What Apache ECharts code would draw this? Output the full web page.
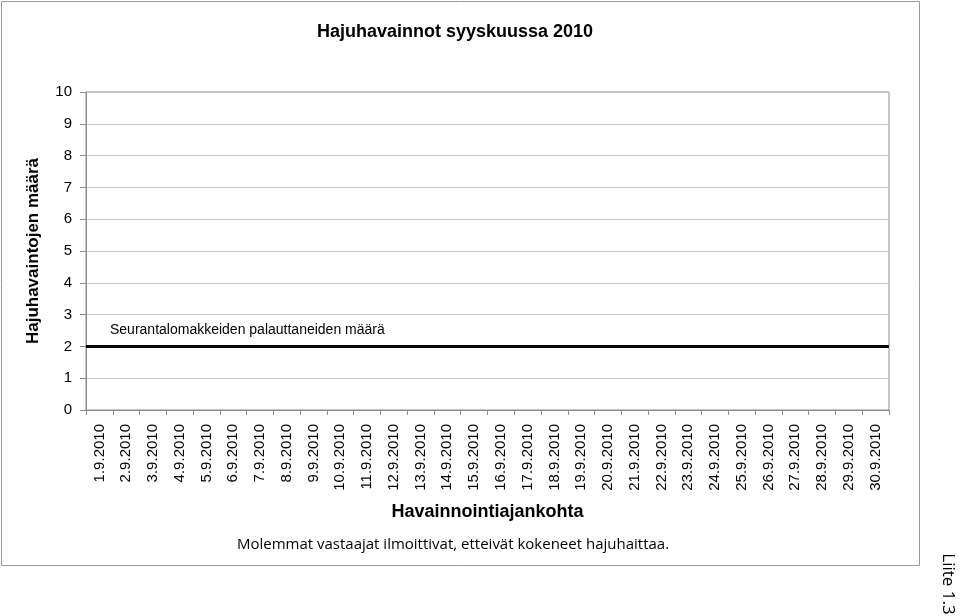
<!DOCTYPE html>
<html>
<head>
<meta charset="utf-8">
<script src="https://cdn.jsdelivr.net/npm/echarts@6/dist/echarts.min.js"></script>
<style>html,body{margin:0;padding:0;background:#fff}#c{width:960px;height:616px}</style>
</head>
<body>
<div id="c"></div>
<script>
const days = ["1.9.2010","2.9.2010","3.9.2010","4.9.2010","5.9.2010","6.9.2010","7.9.2010","8.9.2010","9.9.2010","10.9.2010","11.9.2010","12.9.2010","13.9.2010","14.9.2010","15.9.2010","16.9.2010","17.9.2010","18.9.2010","19.9.2010","20.9.2010","21.9.2010","22.9.2010","23.9.2010","24.9.2010","25.9.2010","26.9.2010","27.9.2010","28.9.2010","29.9.2010","30.9.2010"];
const observations = [0,0,0,0,0,0,0,0,0,0,0,0,0,0,0,0,0,0,0,0,0,0,0,0,0,0,0,0,0,0];
const formsReturned = [2,2,2,2,2,2,2,2,2,2,2,2,2,2,2,2,2,2,2,2,2,2,2,2,2,2,2,2,2,2];
const yMin = 0, yMax = 10, yStep = 1;
const titleText = "Hajuhavainnot syyskuussa 2010";
const yTitle = "Hajuhavaintojen määrä";
const xTitle = "Havainnointiajankohta";
const lineLabel = "Seurantalomakkeiden palauttaneiden määrä";
const noteText = "Molemmat vastaajat ilmoittivat, etteivät kokeneet hajuhaittaa.";
const appendixText = "Liite 1.3";

const chart = echarts.init(document.getElementById('c'), null, {renderer:'canvas'});
const F = "'Liberation Sans', Arial, sans-serif";
chart.setOption({
  animation:false,
  backgroundColor:'#fff',
  title:{text:titleText, left:450, top:18, textAlign:'center',
    textStyle:{fontFamily:F, fontSize:18, fontWeight:'bold', color:'#000'}},
  grid:{left:86, right:71, top:92, bottom:206, show:true, borderColor:'#8c8c8c', borderWidth:1},
  xAxis:[{
    type:'category', data:days, boundaryGap:true,
    name:xTitle, nameLocation:'middle', nameGap:93,
    nameTextStyle:{fontFamily:F, fontSize:18, fontWeight:'bold', color:'#000'},
    axisLine:{lineStyle:{color:'#8c8c8c', width:1}},
    axisTick:{show:true, length:5, lineStyle:{color:'#8c8c8c'}},
    axisLabel:{rotate:90, interval:0, margin:14, fontFamily:F, fontSize:15, color:'#000'},
    splitLine:{show:false}
  },{
    type:'category', data:days, boundaryGap:false, show:false, position:'bottom'
  }],
  yAxis:{
    type:'value', min:yMin, max:yMax, interval:yStep,
    name:yTitle, nameLocation:'middle', nameGap:44, nameRotate:90,
    nameTextStyle:{fontFamily:F, fontSize:17, fontWeight:'bold', color:'#000'},
    axisLine:{show:true, lineStyle:{color:'#8c8c8c'}},
    axisTick:{show:true, length:6, lineStyle:{color:'#8c8c8c'}},
    axisLabel:{margin:14, fontFamily:F, fontSize:15, color:'#000'},
    splitLine:{show:true, lineStyle:{color:'#c4c4c4', width:1}}
  },
  series:[
    {type:'bar', xAxisIndex:0, data:observations, itemStyle:{color:'#4f81bd'}, barWidth:'60%'},
    {type:'line', xAxisIndex:1, data:formsReturned, symbol:'none',
     lineStyle:{color:'#000', width:3}, z:5}
  ],
  graphic:[
    {type:'rect', shape:{x:1.5, y:1.5, width:918, height:564}, style:{fill:'none', stroke:'#9a9a9a', lineWidth:1}, z:-1},
    {type:'text', left:110, top:323, style:{text:lineLabel, font:"14px "+F, fill:'#000'}},
    {type:'text', x:453, y:545, style:{text:noteText, font:"15px 'Open Sans', Lato, sans-serif", fill:'#000', textAlign:'center', textVerticalAlign:'middle'}},
    {type:'text', x:948, y:584, rotation:-Math.PI/2, style:{text:appendixText, font:"17px 'Open Sans', Lato, sans-serif", fill:'#000', textAlign:'center', textVerticalAlign:'middle'}}
  ]
});
</script>
</body>
</html>
